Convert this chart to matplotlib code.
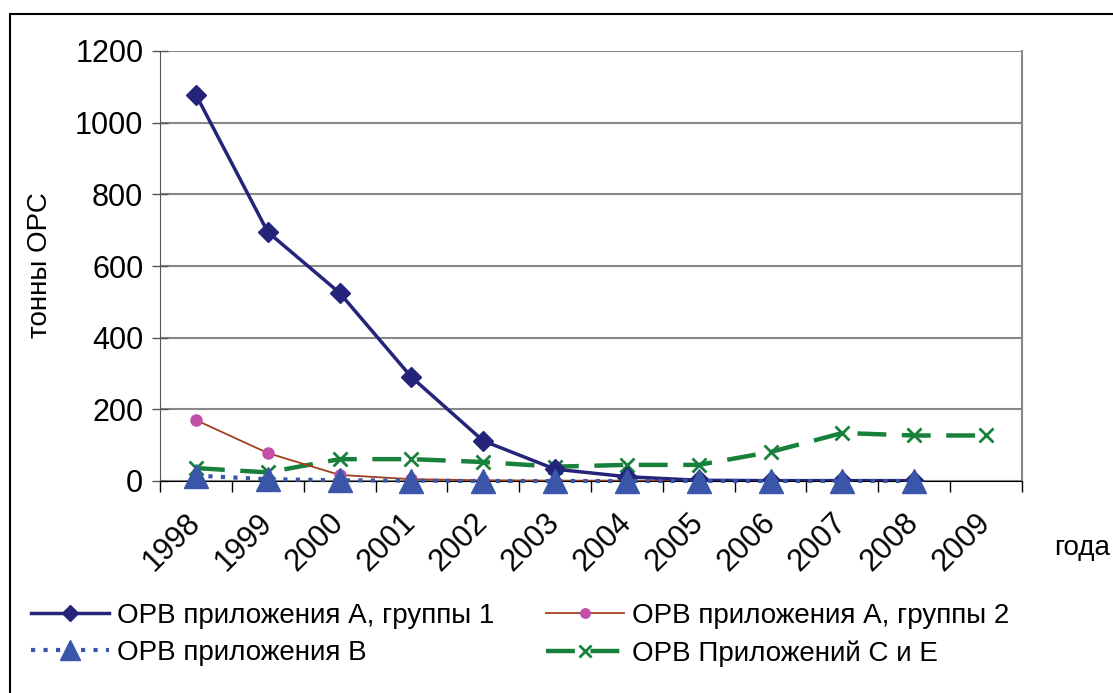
import numpy as np
import matplotlib.pyplot as plt
from matplotlib.patches import Rectangle

plt.rcParams['font.family'] = ['Liberation Sans', 'DejaVu Sans']

years = ['1998', '1999', '2000', '2001', '2002', '2003',
         '2004', '2005', '2006', '2007', '2008', '2009']
grp_a1 = [1078, 695, 525, 290, 112, 33, 12, 2, 1, 1, 1]
grp_a2 = [170, 78, 17, 5, 2, 1, 1, 0, 0, 0, 0]
grp_b = [15, 5, 2, 1, 0, 0, 0, 0, 0, 0, 0]
grp_ce = [36, 24, 61, 61, 53, 40, 45, 45, 81, 134, 127, 127]

labels = ['ОРВ приложения А, группы 1', 'ОРВ приложения А, группы 2',
          'ОРВ приложения В', 'ОРВ Приложений С и Е']

fig = plt.figure(figsize=(11.13, 6.93), dpi=100)
ax = fig.add_axes([160/1113, 1 - 481/693, (1022 - 160)/1113, (481 - 51)/693])

x = np.arange(len(years))

l_ce, = ax.plot(x[:len(grp_ce)], grp_ce, color='#17803a', lw=3.2, marker='x',
                ms=10, mew=2, dashes=(6.5, 3.5), zorder=3)
l_a2, = ax.plot(x[:len(grp_a2)], grp_a2, color='#a0401f', lw=1.3, marker='o',
                ms=8, mfc='#c050a8', mec='#c050a8', zorder=4)
l_a1, = ax.plot(x[:len(grp_a1)], grp_a1, color='#24247a', lw=2.5, marker='D',
                ms=10, zorder=5)
l_b, = ax.plot(x[:len(grp_b)], grp_b, color='#3a56a8', lw=3, marker='^',
               ms=17, dashes=(1.0, 2.0), dash_capstyle='butt', zorder=6,
               clip_on=False)

ax.set_xlim(-0.5, len(years) - 0.5)
ax.set_ylim(0, 1200)
ax.set_yticks(np.arange(0, 1201, 200))
ax.yaxis.grid(True, color='#888888', lw=1.5)
ax.set_axisbelow(True)

ax.set_xticks(x)
ax.set_xticklabels(years, rotation=45, ha='right', va='center',
                   rotation_mode='anchor')
ax.set_xticks(np.arange(-0.5, len(years), 1), minor=True)
ax.tick_params(axis='x', which='major', length=0, pad=27, labelsize=22)
ax.tick_params(axis='x', which='minor', length=8, width=1, color='black')
ax.tick_params(axis='y', direction='inout', length=12, width=1, pad=6,
               labelsize=22, color='#555555')

ax.spines['top'].set_visible(False)
ax.spines['right'].set_color('#888888')
ax.spines['right'].set_linewidth(1.5)
ax.spines['left'].set_color('#555555')
ax.spines['bottom'].set_color('black')

fig.text(40/1113, 1 - 265/693, 'тонны ОРС', rotation=90, ha='center',
         va='center', fontsize=20)
fig.text(1082/1113, 1 - 548/693, 'года', ha='center', va='center', fontsize=20)

fig.legend([l_a1, l_b, l_a2, l_ce], [labels[0], labels[2], labels[1], labels[3]],
           ncol=2, loc='upper left', bbox_to_anchor=(6/1113, 1 - 578/693),
           frameon=False, fontsize=20, handlelength=2.8, columnspacing=1.85,
           labelspacing=0.4, handletextpad=0.3, markerscale=0.85)

fig.add_artist(Rectangle((10/1113, -0.05), 1.1, 1 - 14/693 + 0.05,
                         transform=fig.transFigure, fill=False,
                         edgecolor='black', lw=1.5))

fig.savefig('out.png', dpi=100)
